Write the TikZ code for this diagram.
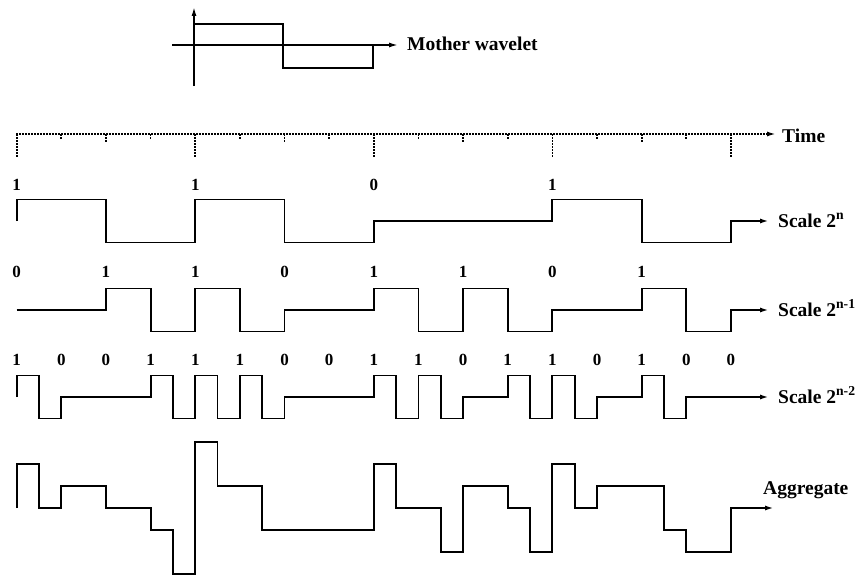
\documentclass[tikz,border=0pt]{standalone}
\usepackage{fontspec}
\setmainfont{Liberation Serif}
\usetikzlibrary{arrows.meta}
\newcommand\mkpath[3]{%
  \xdef\sigpath{(16.7,#1)}%
  \foreach \v [count=\i] in {#3} {%
    \pgfmathsetmacro\xx{16.7+22.32*\i}%
    \pgfmathsetmacro\yy{#1-#2*\v}%
    \xdef\sigpath{\sigpath\space|- (\xx,\yy)}%
  }%
}
\tikzset{
  sig/.style={line width=1.8pt, line join=miter, -{Latex[length=9pt,width=5pt]}},
  axisline/.style={line width=1.5pt},
  dotline/.style={line width=1.7pt, dash pattern=on 1.5pt off 1.5pt},
  tip/.style={-{Latex[length=9pt,width=5pt]}},
  lbl/.style={font=\fontsize{19.5}{22}\selectfont\bfseries, inner sep=0pt, anchor=base west},
  digit/.style={font=\fontsize{17}{19}\selectfont\bfseries, inner sep=0pt}
}
\begin{document}
\begin{tikzpicture}[x=1pt,y=-1pt]
\useasboundingbox (0,0) rectangle (862,578);

% Mother wavelet
\coordinate (va) at (194,86);
\coordinate (vb) at (194,7);
\coordinate (ha) at (172,45);
\coordinate (hb) at (398,45);
\draw[axisline,tip] (va) -- (vb);
\draw[axisline,tip] (ha) -- (hb);
\draw[line width=1.6pt] (194,24) -- (283,24) -- (283,68) -- (373,68) -- (373,45);
\node[lbl] (mw) at (407,51) {Mother wavelet};

% Time axis
\coordinate (t0) at (16,134);
\coordinate (t1) at (776,134);
\draw[dotline,-{Latex[length=9pt,width=5pt]}] (t0) -- (t1);
\node[lbl] (time) at (782,142) {Time};
\foreach \k in {0,4,8,12,16} \draw[dotline] ({16.7+44.64*\k},134) -- ({16.7+44.64*\k},157);
\foreach \k in {2,6,10,14} \draw[dotline] ({16.7+44.64*\k},134) -- ({16.7+44.64*\k},143);
\foreach \k in {1,3,5,7,9,11,13,15} \draw[dotline] ({16.7+44.64*\k},134) -- ({16.7+44.64*\k},139);

% Scale 2^n
\foreach \b [count=\j from 0] in {1,1,0,1}
  \node[digit] (da\j) at ({16.7+178.56*\j},185) {\b};
\mkpath{221}{21.5}{1,1,1,1,-1,-1,-1,-1,1,1,1,1,-1,-1,-1,-1,0,0,0,0,0,0,0,0,1,1,1,1,-1,-1,-1,-1}
\coordinate (ea) at (769,221);
\edef\tmp{\noexpand\draw[sig] \sigpath\space|- (ea);}\tmp
\node[lbl] (sa) at (778,227) {Scale 2\textsuperscript{n}};

% Scale 2^(n-1)
\foreach \b [count=\j from 0] in {0,1,1,0,1,1,0,1}
  \node[digit] (db\j) at ({16.7+89.28*\j},272) {\b};
\mkpath{310}{21.5}{0,0,0,0,1,1,-1,-1,1,1,-1,-1,0,0,0,0,1,1,-1,-1,1,1,-1,-1,0,0,0,0,1,1,-1,-1}
\coordinate (eb) at (769,310);
\edef\tmp{\noexpand\draw[sig] \sigpath\space|- (eb);}\tmp
\node[lbl] (sb) at (778,316) {Scale 2\textsuperscript{n-1}};

% Scale 2^(n-2)
\foreach \b [count=\j from 0] in {1,0,0,1,1,1,0,0,1,1,0,1,1,0,1,0,0}
  \node[digit] (dc\j) at ({16.7+44.64*\j},360) {\b};
\mkpath{397}{21.5}{1,-1,0,0,0,0,1,-1,1,-1,1,-1,0,0,0,0,1,-1,1,-1,0,0,1,-1,1,-1,0,0,1,-1,0,0}
\coordinate (ec) at (769,397);
\edef\tmp{\noexpand\draw[sig] \sigpath\space|- (ec);}\tmp
\node[lbl] (sc) at (778,403) {Scale 2\textsuperscript{n-2}};

% Aggregate
\mkpath{508}{22}{2,0,1,1,0,0,-1,-3,3,1,1,-1,-1,-1,-1,-1,2,0,0,-2,1,1,0,-2,2,0,1,1,1,-1,-2,-2}
\coordinate (ed) at (774,508);
\edef\tmp{\noexpand\draw[sig] \sigpath\space|- (ed);}\tmp
\node[lbl] (ag) at (763,494) {Aggregate};
\end{tikzpicture}
\end{document}
